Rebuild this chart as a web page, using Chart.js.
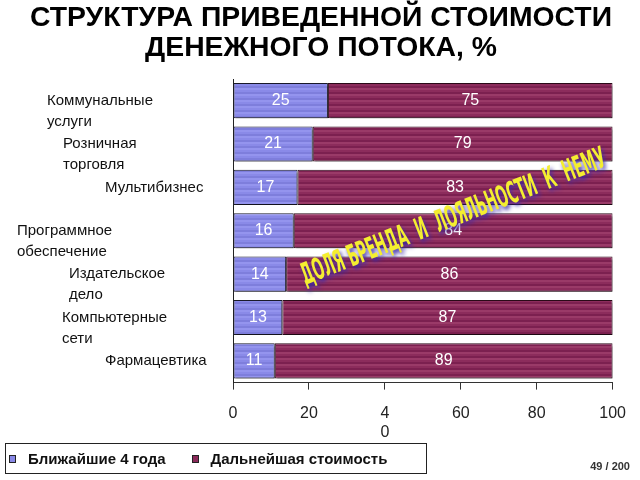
<!DOCTYPE html>
<html lang="ru">
  <head>
    <meta charset="UTF-8" />
    <title>Структура приведенной стоимости денежного потока</title>
    <style>
      body {
        margin: 0;
        background: #fff;
        font-family: "Liberation Sans", Arial, sans-serif;
      }
      .wrap {
        position: relative;
        width: 640px;
        height: 480px;
      }
      .legend {
        position: absolute;
        left: 5px;
        top: 443px;
        width: 420px;
        height: 29px;
        border: 1px solid #222;
        font-size: 15px;
        font-weight: bold;
        color: #111;
        display: flex;
        align-items: center;
      }
      .legend span.box {
        display: inline-block;
        width: 5px;
        height: 6px;
        border: 1px solid #222;
        margin: 0 12px 0 3px;
      }
      .page {
        position: absolute;
        right: 10px;
        top: 460px;
        font-size: 11px;
        font-weight: bold;
        color: #333;
      }
    </style>
  </head>
  <body>
    <div class="wrap">
      <canvas id="chart" width="640" height="480"></canvas>
      <div class="legend">
        <span class="box" style="background:#8888e6"></span>Ближайшие 4 года
        <span class="box" style="background:#8a2a5a; margin-left:26px"></span>Дальнейшая стоимость
      </div>
      <div class="page">49 / 200</div>
    </div>
    <script src="https://cdn.jsdelivr.net/npm/chart.js"></script>
    <script>
      const titleLines = ["СТРУКТУРА ПРИВЕДЕННОЙ СТОИМОСТИ", "ДЕНЕЖНОГО ПОТОКА, %"];
      const industries = [
        ["Коммунальные", "услуги"],
        ["Розничная", "торговля"],
        ["Мультибизнес"],
        ["Программное", "обеспечение"],
        ["Издательское", "дело"],
        ["Компьютерные", "сети"],
        ["Фармацевтика"],
      ];
      const nearFourYears = [25, 21, 17, 16, 14, 13, 11];
      const laterValue = [75, 79, 83, 84, 86, 87, 89];
      const xTickLabels = ["0", "20", ["4", "0"], "60", "80", "100"];

      // left edge of each category label (the slide had them scattered)
      const labelLeft = [47, 63, 105, 17, 69, 62, 105];

      function stripes(c1, c2, c3) {
        const p = document.createElement("canvas");
        p.width = 4;
        p.height = 6;
        const g = p.getContext("2d");
        g.fillStyle = c1;
        g.fillRect(0, 0, 4, 2);
        g.fillStyle = c2;
        g.fillRect(0, 2, 4, 2);
        g.fillStyle = c3;
        g.fillRect(0, 4, 4, 2);
        return g.createPattern(p, "repeat");
      }

      const ctx = document.getElementById("chart").getContext("2d");
      const bluePattern = stripes("#8a8ae8", "#7e7edc", "#9494ee");
      const maroonPattern = stripes("#8c2c5c", "#7c2050", "#9a3a68");

      const slideTitle = {
        id: "slideTitle",
        afterDraw(chart) {
          const c = chart.ctx;
          c.save();
          c.font = "bold 28px 'Liberation Sans', Arial, sans-serif";
          const k = 582 / c.measureText(titleLines[0]).width;
          c.fillStyle = "#000";
          c.textAlign = "center";
          c.textBaseline = "middle";
          titleLines.forEach((t, i) => {
            c.save();
            c.translate(321, 18 + i * 30);
            c.scale(k, 1);
            c.fillText(t, 0, 0);
            c.restore();
          });
          c.restore();
        },
      };

      const categoryLabels = {
        id: "categoryLabels",
        afterDraw(chart) {
          const c = chart.ctx;
          const y = chart.scales.y;
          c.save();
          c.font = "15px 'Liberation Sans', Arial, sans-serif";
          c.fillStyle = "#111";
          c.textBaseline = "middle";
          c.textAlign = "left";
          industries.forEach((lines, i) => {
            const cy = y.getPixelForValue(i);
            lines.forEach((t, k) => c.fillText(t, labelLeft[i], cy + k * 21));
          });
          c.restore();
        },
      };

      const valueLabels = {
        id: "valueLabels",
        afterDatasetsDraw(chart) {
          const c = chart.ctx;
          c.save();
          c.font = "16px 'Liberation Sans', Arial, sans-serif";
          c.fillStyle = "#fff";
          c.textAlign = "center";
          c.textBaseline = "middle";
          chart.data.datasets.forEach((ds, di) => {
            chart.getDatasetMeta(di).data.forEach((bar, i) => {
              const cx = (bar.x + bar.base) / 2;
              c.fillText(String(ds.data[i]), cx, bar.y);
            });
          });
          c.restore();
        },
      };

      const barShadow = {
        id: "barShadow",
        beforeDatasetsDraw(chart) {
          const c = chart.ctx;
          c.save();
          c.shadowColor = "rgba(0,0,0,0.3)";
          c.shadowOffsetX = 2;
          c.shadowOffsetY = 3;
          c.shadowBlur = 1;
        },
        afterDatasetsDraw(chart) {
          chart.ctx.restore();
        },
      };

      const slogan = {
        id: "slogan",
        afterDraw(chart) {
          const c = chart.ctx;
          const text = "ДОЛЯ БРЕНДА  И  ЛОЯЛЬНОСТИ  К  НЕМУ";
          c.save();
          c.translate(454, 218);
          c.rotate(-21.5 * Math.PI / 180);
          c.font = "bold 30px 'DejaVu Sans Condensed', 'DejaVu Sans', sans-serif";
          const w = c.measureText(text).width;
          c.scale(326 / w, 1);
          c.textAlign = "center";
          c.textBaseline = "middle";
          c.shadowColor = "#3a2aa8";
          c.shadowOffsetX = 2;
          c.shadowOffsetY = 3;
          c.shadowBlur = 4;
          c.fillStyle = "#f4ee30";
          c.fillText(text, 0, 0);
          c.restore();
        },
      };

      new Chart(ctx, {
        type: "bar",
        data: {
          labels: industries,
          datasets: [
            {
              label: "Ближайшие 4 года",
              data: nearFourYears,
              backgroundColor: bluePattern,
              borderColor: "#1a1a2a",
              borderWidth: 1,
              borderSkipped: false,
            },
            {
              label: "Дальнейшая стоимость",
              data: laterValue,
              backgroundColor: maroonPattern,
              borderColor: "#2a0a18",
              borderWidth: 1,
              borderSkipped: false,
            },
          ],
        },
        options: {
          indexAxis: "y",
          responsive: false,
          animation: false,
          barPercentage: 0.81,
          categoryPercentage: 1,
          layout: { padding: { left: 225, right: 25, top: 79, bottom: 24 } },
          plugins: {
            legend: { display: false },
            tooltip: { enabled: false },
            title: { display: false },
          },
          scales: {
            x: {
              stacked: true,
              min: 0,
              max: 100,
              grid: { drawOnChartArea: false, drawTicks: true, tickLength: 7, color: "#333" },
              border: { color: "#333" },
              ticks: {
                stepSize: 20,
                padding: 14,
                color: "#222",
                font: { size: 16, family: "'Liberation Sans', Arial, sans-serif" },
                maxRotation: 0,
                callback: (v, i) => xTickLabels[i],
              },
            },
            y: {
              stacked: true,
              grid: { display: false },
              border: { color: "#222" },
              ticks: { display: false },
            },
          },
        },
        plugins: [barShadow, valueLabels, categoryLabels, slogan, slideTitle],
      });
    </script>
  </body>
</html>
